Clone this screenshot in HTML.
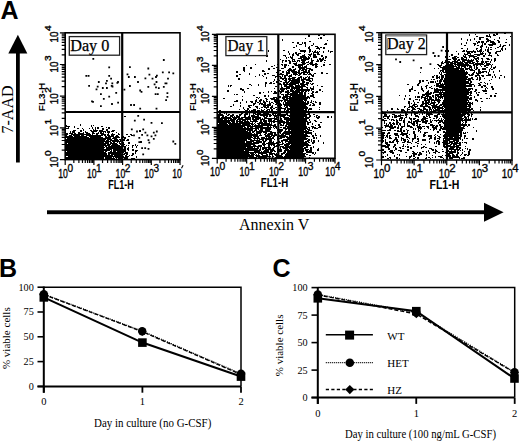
<!DOCTYPE html>
<html><head><meta charset="utf-8"><style>
html,body{margin:0;padding:0;background:#fff;width:520px;height:441px;overflow:hidden}
svg{display:block}
</style></head><body>
<svg width="520" height="441" viewBox="0 0 520 441">
<rect width="520" height="441" fill="#fff"/>
<text x="0.60" y="18.75" font-family='"Liberation Sans", sans-serif' font-size="25" font-weight="bold" text-anchor="start" >A</text>
<rect x="16" y="52" width="3.8" height="110.5" fill="#000"/>
<path d="M8.3 53.5 L27.3 53.5 L17.9 34.8 Z" fill="#000"/>
<text x="12.90" y="109.50" font-family='"Liberation Serif", serif' font-size="16" font-weight="normal" text-anchor="middle" transform="rotate(-90 12.90 109.50)" >7-AAD</text>
<path d="M496 33.5h2M504 33.5h2M469 34.5h1M475 34.5h1M489 34.5h1M493 34.5h2M496 34.5h2M308 35.5h2M318 35.5h2M323 35.5h2M469 35.5h1M486 35.5h2M489 35.5h1M493 35.5h3M308 36.5h2M476 36.5h2M486 36.5h5M510 36.5h1M320 37.5h2M479 37.5h5M490 37.5h1M499 37.5h1M305 38.5h1M318 38.5h1M320 38.5h2M461 38.5h1M474 38.5h1M479 38.5h2M486 38.5h2M499 38.5h1M237 39.5h2M282 39.5h1M461 39.5h1M467 39.5h1M470 39.5h1M474 39.5h1M479 39.5h2M486 39.5h3M494 39.5h1M506 39.5h1M237 40.5h2M282 40.5h1M327 40.5h1M467 40.5h1M470 40.5h1M487 40.5h4M497 40.5h2M309 41.5h2M476 41.5h1M478 41.5h2M481 41.5h3M486 41.5h3M490 41.5h4M498 41.5h2M292 42.5h2M297 42.5h2M302 42.5h1M304 42.5h2M466 42.5h1M477 42.5h3M481 42.5h3M486 42.5h1M490 42.5h5M498 42.5h2M505 42.5h2M297 43.5h2M302 43.5h1M304 43.5h2M313 43.5h1M325 43.5h2M461 43.5h1M466 43.5h1M473 43.5h3M477 43.5h1M482 43.5h1M484 43.5h2M492 43.5h4M299 44.5h3M305 44.5h1M313 44.5h1M324 44.5h3M461 44.5h1M474 44.5h2M482 44.5h1M484 44.5h2M488 44.5h8M500 44.5h1M509 44.5h1M296 45.5h1M305 45.5h1M311 45.5h2M464 45.5h2M474 45.5h1M477 45.5h2M481 45.5h2M489 45.5h4M500 45.5h1M503 45.5h3M509 45.5h1M296 46.5h1M305 46.5h1M309 46.5h1M315 46.5h3M480 46.5h3M486 46.5h1M499 46.5h2M502 46.5h2M293 47.5h2M308 47.5h2M317 47.5h2M320 47.5h2M323 47.5h2M480 47.5h2M486 47.5h1M488 47.5h1M490 47.5h2M497 47.5h2M502 47.5h1M308 48.5h2M316 48.5h4M323 48.5h2M461 48.5h2M467 48.5h1M476 48.5h2M481 48.5h1M488 48.5h1M495 48.5h1M501 48.5h2M505 48.5h1M299 49.5h1M309 49.5h2M319 49.5h1M467 49.5h1M476 49.5h1M480 49.5h2M485 49.5h1M487 49.5h2M490 49.5h2M501 49.5h2M505 49.5h1M268 50.5h1M283 50.5h2M300 50.5h6M309 50.5h2M315 50.5h1M328 50.5h1M445 50.5h1M448 50.5h1M463 50.5h2M466 50.5h1M473 50.5h1M477 50.5h1M479 50.5h3M485 50.5h1M487 50.5h2M500 50.5h1M502 50.5h1M268 51.5h1M288 51.5h1M300 51.5h6M309 51.5h2M312 51.5h1M314 51.5h2M317 51.5h1M319 51.5h1M323 51.5h1M328 51.5h1M330 51.5h3M445 51.5h1M448 51.5h1M456 51.5h1M462 51.5h3M466 51.5h10M477 51.5h5M483 51.5h1M487 51.5h2M496 51.5h5M288 52.5h1M295 52.5h2M304 52.5h1M309 52.5h1M313 52.5h6M323 52.5h1M330 52.5h1M447 52.5h1M467 52.5h3M471 52.5h2M474 52.5h2M480 52.5h1M482 52.5h1M488 52.5h3M495 52.5h2M289 53.5h1M293 53.5h1M295 53.5h2M298 53.5h3M311 53.5h1M313 53.5h1M317 53.5h2M458 53.5h1M464 53.5h1M467 53.5h4M480 53.5h4M485 53.5h1M489 53.5h2M495 53.5h2M289 54.5h1M292 54.5h2M296 54.5h3M304 54.5h1M308 54.5h4M313 54.5h3M317 54.5h3M451 54.5h2M458 54.5h1M464 54.5h4M470 54.5h1M474 54.5h9M485 54.5h1M489 54.5h1M497 54.5h1M266 55.5h2M283 55.5h3M292 55.5h2M297 55.5h2M302 55.5h3M309 55.5h2M313 55.5h3M321 55.5h2M446 55.5h2M451 55.5h2M463 55.5h1M465 55.5h1M468 55.5h6M477 55.5h3M483 55.5h2M488 55.5h4M497 55.5h2M266 56.5h2M285 56.5h1M290 56.5h1M292 56.5h1M300 56.5h6M308 56.5h1M310 56.5h1M313 56.5h4M321 56.5h2M325 56.5h2M445 56.5h2M449 56.5h1M454 56.5h3M463 56.5h3M469 56.5h8M483 56.5h2M491 56.5h1M286 57.5h1M288 57.5h1M290 57.5h3M300 57.5h7M308 57.5h2M313 57.5h4M323 57.5h1M325 57.5h2M445 57.5h2M452 57.5h4M457 57.5h2M461 57.5h2M464 57.5h3M469 57.5h1M473 57.5h2M477 57.5h2M286 58.5h1M291 58.5h2M298 58.5h4M303 58.5h7M311 58.5h1M319 58.5h2M322 58.5h2M325 58.5h1M452 58.5h5M461 58.5h3M466 58.5h1M474 58.5h5M481 58.5h2M486 58.5h3M494 58.5h2M280 59.5h1M292 59.5h3M301 59.5h8M311 59.5h1M317 59.5h1M319 59.5h5M447 59.5h4M453 59.5h4M458 59.5h2M461 59.5h6M468 59.5h1M471 59.5h1M473 59.5h1M475 59.5h2M478 59.5h1M482 59.5h1M487 59.5h3M491 59.5h1M494 59.5h2M266 60.5h1M278 60.5h1M282 60.5h2M285 60.5h2M288 60.5h2M292 60.5h1M294 60.5h1M297 60.5h3M301 60.5h5M311 60.5h3M317 60.5h2M320 60.5h3M324 60.5h2M445 60.5h1M454 60.5h2M457 60.5h3M462 60.5h12M476 60.5h2M482 60.5h1M491 60.5h1M494 60.5h2M266 61.5h1M278 61.5h1M282 61.5h1M285 61.5h2M289 61.5h2M292 61.5h4M297 61.5h1M299 61.5h1M302 61.5h3M308 61.5h1M311 61.5h2M316 61.5h3M320 61.5h2M442 61.5h1M445 61.5h1M448 61.5h2M452 61.5h6M460 61.5h1M462 61.5h3M467 61.5h6M476 61.5h3M481 61.5h3M485 61.5h4M490 61.5h1M494 61.5h1M282 62.5h1M289 62.5h2M296 62.5h1M301 62.5h4M306 62.5h3M310 62.5h3M324 62.5h1M441 62.5h2M444 62.5h9M454 62.5h9M464 62.5h7M472 62.5h3M477 62.5h1M481 62.5h3M485 62.5h2M490 62.5h1M289 63.5h2M293 63.5h4M302 63.5h4M309 63.5h4M315 63.5h2M441 63.5h3M446 63.5h3M450 63.5h6M457 63.5h7M465 63.5h3M469 63.5h5M475 63.5h8M484 63.5h1M486 63.5h4M255 64.5h1M277 64.5h1M281 64.5h2M284 64.5h3M294 64.5h3M298 64.5h7M307 64.5h2M310 64.5h8M323 64.5h2M329 64.5h2M437 64.5h2M441 64.5h1M446 64.5h7M454 64.5h15M473 64.5h11M486 64.5h5M492 64.5h1M246 65.5h1M274 65.5h1M282 65.5h1M284 65.5h3M288 65.5h1M295 65.5h8M306 65.5h1M312 65.5h2M315 65.5h2M323 65.5h2M438 65.5h4M445 65.5h9M455 65.5h1M457 65.5h14M473 65.5h2M476 65.5h2M480 65.5h1M484 65.5h5M491 65.5h1M271 66.5h2M284 66.5h2M292 66.5h2M298 66.5h3M302 66.5h1M304 66.5h3M315 66.5h3M321 66.5h1M439 66.5h2M443 66.5h14M458 66.5h2M461 66.5h5M467 66.5h1M469 66.5h3M474 66.5h1M476 66.5h1M481 66.5h1M484 66.5h2M491 66.5h1M495 66.5h1M243 67.5h2M250 67.5h2M276 67.5h2M284 67.5h2M292 67.5h2M298 67.5h9M315 67.5h2M440 67.5h14M456 67.5h4M461 67.5h1M464 67.5h2M469 67.5h3M474 67.5h1M476 67.5h2M486 67.5h2M491 67.5h1M493 67.5h3M243 68.5h2M250 68.5h2M268 68.5h2M273 68.5h2M281 68.5h3M289 68.5h2M295 68.5h1M299 68.5h6M306 68.5h5M434 68.5h1M438 68.5h1M442 68.5h22M465 68.5h5M471 68.5h1M474 68.5h1M476 68.5h2M482 68.5h4M490 68.5h1M493 68.5h2M243 69.5h2M268 69.5h2M277 69.5h2M288 69.5h4M293 69.5h3M299 69.5h2M302 69.5h5M309 69.5h4M442 69.5h17M460 69.5h4M465 69.5h3M469 69.5h4M475 69.5h2M478 69.5h2M482 69.5h4M489 69.5h1M491 69.5h2M243 70.5h2M262 70.5h2M277 70.5h4M287 70.5h8M298 70.5h2M301 70.5h3M305 70.5h2M308 70.5h2M311 70.5h2M440 70.5h4M445 70.5h20M470 70.5h5M478 70.5h2M489 70.5h1M499 70.5h1M236 71.5h2M244 71.5h1M262 71.5h3M277 71.5h2M282 71.5h2M286 71.5h1M288 71.5h2M291 71.5h6M298 71.5h2M303 71.5h4M308 71.5h2M440 71.5h1M442 71.5h2M445 71.5h20M466 71.5h1M474 71.5h1M478 71.5h3M482 71.5h5M489 71.5h1M493 71.5h1M499 71.5h1M236 72.5h2M276 72.5h2M282 72.5h2M286 72.5h4M292 72.5h8M301 72.5h9M321 72.5h2M420 72.5h1M439 72.5h1M441 72.5h1M443 72.5h25M473 72.5h2M476 72.5h1M478 72.5h6M486 72.5h1M488 72.5h1M493 72.5h1M249 73.5h1M264 73.5h2M267 73.5h2M277 73.5h1M280 73.5h2M286 73.5h4M293 73.5h4M298 73.5h4M303 73.5h2M307 73.5h1M309 73.5h2M314 73.5h2M321 73.5h2M326 73.5h2M439 73.5h1M441 73.5h1M446 73.5h1M448 73.5h20M472 73.5h2M476 73.5h5M488 73.5h1M239 74.5h2M249 74.5h1M259 74.5h1M264 74.5h2M277 74.5h7M286 74.5h2M291 74.5h1M293 74.5h5M299 74.5h2M303 74.5h4M308 74.5h4M313 74.5h1M440 74.5h2M444 74.5h23M468 74.5h2M471 74.5h3M477 74.5h2M488 74.5h3M494 74.5h1M236 75.5h2M259 75.5h1M262 75.5h1M272 75.5h3M277 75.5h2M282 75.5h1M284 75.5h4M289 75.5h3M295 75.5h1M298 75.5h2M311 75.5h3M434 75.5h1M436 75.5h2M441 75.5h3M445 75.5h21M469 75.5h4M475 75.5h5M481 75.5h3M486 75.5h5M494 75.5h1M500 75.5h2M236 76.5h2M255 76.5h1M263 76.5h1M275 76.5h6M282 76.5h1M284 76.5h2M288 76.5h4M300 76.5h2M307 76.5h1M309 76.5h1M312 76.5h2M432 76.5h2M436 76.5h2M439 76.5h1M441 76.5h3M445 76.5h1M447 76.5h21M475 76.5h2M479 76.5h1M482 76.5h2M492 76.5h1M495 76.5h1M504 76.5h1M266 77.5h1M275 77.5h1M280 77.5h2M284 77.5h2M289 77.5h1M292 77.5h4M298 77.5h4M303 77.5h1M305 77.5h2M308 77.5h2M432 77.5h2M436 77.5h4M441 77.5h3M445 77.5h23M471 77.5h2M477 77.5h1M479 77.5h2M492 77.5h1M495 77.5h1M499 77.5h1M504 77.5h1M238 78.5h2M266 78.5h1M280 78.5h7M288 78.5h7M297 78.5h3M301 78.5h1M303 78.5h3M308 78.5h5M436 78.5h2M439 78.5h1M441 78.5h2M444 78.5h23M468 78.5h5M477 78.5h1M479 78.5h2M484 78.5h1M499 78.5h1M238 79.5h2M274 79.5h1M277 79.5h2M282 79.5h2M285 79.5h2M288 79.5h3M292 79.5h8M301 79.5h9M312 79.5h1M431 79.5h1M433 79.5h2M440 79.5h3M444 79.5h27M472 79.5h2M476 79.5h2M479 79.5h2M491 79.5h1M274 80.5h1M278 80.5h2M284 80.5h3M289 80.5h11M301 80.5h3M306 80.5h5M312 80.5h1M419 80.5h2M422 80.5h2M426 80.5h2M437 80.5h1M439 80.5h3M443 80.5h23M468 80.5h3M479 80.5h1M489 80.5h1M273 81.5h1M276 81.5h2M280 81.5h2M285 81.5h2M288 81.5h2M291 81.5h9M302 81.5h3M309 81.5h3M419 81.5h2M422 81.5h2M430 81.5h4M435 81.5h1M437 81.5h1M439 81.5h3M443 81.5h26M470 81.5h2M265 82.5h2M270 82.5h2M276 82.5h2M283 82.5h6M290 82.5h10M302 82.5h3M306 82.5h3M419 82.5h2M428 82.5h1M430 82.5h4M435 82.5h1M439 82.5h2M444 82.5h25M470 82.5h2M480 82.5h2M484 82.5h1M265 83.5h2M269 83.5h3M273 83.5h2M279 83.5h2M283 83.5h2M286 83.5h2M289 83.5h10M300 83.5h4M306 83.5h3M310 83.5h1M312 83.5h2M418 83.5h2M428 83.5h1M436 83.5h5M442 83.5h1M444 83.5h27M478 83.5h2M485 83.5h1M487 83.5h1M490 83.5h1M249 84.5h2M258 84.5h1M265 84.5h1M279 84.5h3M283 84.5h13M298 84.5h1M300 84.5h8M311 84.5h2M407 84.5h2M417 84.5h2M436 84.5h3M440 84.5h26M469 84.5h5M479 84.5h2M487 84.5h1M228 85.5h1M230 85.5h2M251 85.5h1M258 85.5h1M265 85.5h1M281 85.5h1M284 85.5h3M289 85.5h4M295 85.5h5M301 85.5h4M307 85.5h1M317 85.5h1M417 85.5h2M426 85.5h2M434 85.5h1M436 85.5h8M445 85.5h27M474 85.5h1M478 85.5h3M483 85.5h3M228 86.5h1M230 86.5h1M265 86.5h1M275 86.5h2M281 86.5h1M284 86.5h10M295 86.5h11M313 86.5h1M321 86.5h2M412 86.5h1M421 86.5h1M425 86.5h2M431 86.5h1M436 86.5h36M474 86.5h1M481 86.5h2M484 86.5h2M491 86.5h2M281 87.5h2M286 87.5h4M291 87.5h12M306 87.5h2M310 87.5h1M313 87.5h1M412 87.5h1M421 87.5h1M426 87.5h1M429 87.5h2M439 87.5h27M481 87.5h2M486 87.5h1M491 87.5h2M240 88.5h2M247 88.5h2M274 88.5h1M280 88.5h10M291 88.5h9M301 88.5h2M307 88.5h1M310 88.5h4M411 88.5h2M421 88.5h2M426 88.5h1M431 88.5h2M434 88.5h1M436 88.5h2M442 88.5h25M468 88.5h5M485 88.5h1M487 88.5h1M492 88.5h2M240 89.5h4M280 89.5h5M286 89.5h1M290 89.5h3M294 89.5h1M296 89.5h14M311 89.5h3M319 89.5h2M409 89.5h4M421 89.5h2M434 89.5h37M472 89.5h1M475 89.5h2M485 89.5h1M492 89.5h2M227 90.5h2M242 90.5h2M279 90.5h1M281 90.5h3M287 90.5h2M290 90.5h4M295 90.5h15M311 90.5h1M319 90.5h2M409 90.5h2M414 90.5h2M422 90.5h2M428 90.5h1M434 90.5h36M475 90.5h2M482 90.5h5M227 91.5h2M244 91.5h1M268 91.5h1M271 91.5h1M274 91.5h2M279 91.5h5M285 91.5h4M290 91.5h10M301 91.5h3M305 91.5h2M308 91.5h1M312 91.5h2M316 91.5h2M322 91.5h1M409 91.5h2M423 91.5h1M427 91.5h2M434 91.5h5M440 91.5h1M442 91.5h1M445 91.5h24M470 91.5h2M474 91.5h2M483 91.5h4M244 92.5h1M259 92.5h2M263 92.5h1M268 92.5h1M274 92.5h3M280 92.5h2M285 92.5h5M292 92.5h11M304 92.5h2M312 92.5h2M315 92.5h3M418 92.5h1M426 92.5h3M430 92.5h2M433 92.5h39M476 92.5h1M478 92.5h2M259 93.5h2M273 93.5h4M280 93.5h1M287 93.5h2M290 93.5h8M299 93.5h4M304 93.5h2M308 93.5h1M311 93.5h2M418 93.5h1M425 93.5h7M433 93.5h1M439 93.5h3M443 93.5h26M470 93.5h2M476 93.5h1M485 93.5h2M495 93.5h2M234 94.5h1M236 94.5h2M281 94.5h3M285 94.5h18M304 94.5h2M312 94.5h2M422 94.5h9M435 94.5h34M470 94.5h1M477 94.5h2M253 95.5h2M264 95.5h2M268 95.5h1M283 95.5h1M285 95.5h3M290 95.5h16M310 95.5h4M399 95.5h1M405 95.5h1M409 95.5h1M422 95.5h3M426 95.5h3M432 95.5h2M435 95.5h4M440 95.5h2M443 95.5h24M469 95.5h3M477 95.5h2M490 95.5h2M494 95.5h2M242 96.5h1M264 96.5h2M268 96.5h1M279 96.5h2M283 96.5h8M292 96.5h14M307 96.5h2M310 96.5h4M405 96.5h1M415 96.5h1M417 96.5h3M421 96.5h2M425 96.5h6M432 96.5h2M435 96.5h1M437 96.5h32M474 96.5h1M490 96.5h2M494 96.5h2M256 97.5h2M259 97.5h1M273 97.5h4M279 97.5h2M282 97.5h6M289 97.5h21M313 97.5h2M415 97.5h1M417 97.5h3M421 97.5h5M427 97.5h1M429 97.5h3M433 97.5h1M435 97.5h2M438 97.5h5M444 97.5h25M470 97.5h2M474 97.5h1M223 98.5h2M258 98.5h1M265 98.5h2M270 98.5h5M276 98.5h2M282 98.5h3M286 98.5h22M309 98.5h1M404 98.5h1M409 98.5h2M421 98.5h1M424 98.5h4M429 98.5h3M435 98.5h2M438 98.5h1M440 98.5h1M442 98.5h1M444 98.5h28M480 98.5h2M486 98.5h2M489 98.5h1M242 99.5h1M256 99.5h1M260 99.5h2M266 99.5h2M271 99.5h7M283 99.5h5M289 99.5h18M404 99.5h1M409 99.5h2M415 99.5h3M419 99.5h1M424 99.5h2M427 99.5h7M435 99.5h5M444 99.5h24M469 99.5h3M475 99.5h2M236 100.5h2M242 100.5h1M255 100.5h2M259 100.5h3M263 100.5h1M266 100.5h1M274 100.5h9M284 100.5h19M304 100.5h3M311 100.5h1M413 100.5h1M419 100.5h1M424 100.5h6M431 100.5h10M443 100.5h26M475 100.5h3M234 101.5h4M246 101.5h1M250 101.5h3M255 101.5h2M259 101.5h2M263 101.5h2M266 101.5h2M269 101.5h1M274 101.5h6M281 101.5h1M284 101.5h2M287 101.5h17M305 101.5h1M307 101.5h2M311 101.5h1M313 101.5h1M315 101.5h1M408 101.5h2M413 101.5h1M422 101.5h2M425 101.5h2M428 101.5h2M431 101.5h1M434 101.5h1M437 101.5h3M443 101.5h24M468 101.5h1M477 101.5h1M481 101.5h2M240 102.5h1M246 102.5h1M251 102.5h2M255 102.5h1M257 102.5h2M260 102.5h1M263 102.5h3M269 102.5h1M271 102.5h2M275 102.5h5M283 102.5h1M285 102.5h21M307 102.5h2M310 102.5h2M315 102.5h2M319 102.5h2M408 102.5h2M414 102.5h1M417 102.5h2M422 102.5h2M425 102.5h5M431 102.5h5M438 102.5h2M442 102.5h29M472 102.5h1M240 103.5h1M253 103.5h3M259 103.5h4M264 103.5h2M269 103.5h2M273 103.5h1M276 103.5h5M283 103.5h1M285 103.5h24M312 103.5h2M319 103.5h2M408 103.5h2M411 103.5h1M414 103.5h1M422 103.5h7M430 103.5h5M438 103.5h1M442 103.5h26M469 103.5h4M233 104.5h1M253 104.5h2M259 104.5h1M261 104.5h5M267 104.5h4M275 104.5h2M278 104.5h4M283 104.5h25M310 104.5h1M313 104.5h2M319 104.5h2M409 104.5h1M413 104.5h4M421 104.5h3M425 104.5h2M428 104.5h3M433 104.5h2M436 104.5h2M440 104.5h31M472 104.5h1M233 105.5h1M240 105.5h1M248 105.5h4M253 105.5h1M263 105.5h8M272 105.5h1M277 105.5h5M284 105.5h22M309 105.5h2M312 105.5h3M409 105.5h1M412 105.5h3M417 105.5h1M420 105.5h3M425 105.5h3M431 105.5h6M439 105.5h3M443 105.5h24M468 105.5h3M230 106.5h2M240 106.5h1M248 106.5h2M255 106.5h3M263 106.5h3M267 106.5h2M271 106.5h2M279 106.5h2M284 106.5h1M286 106.5h2M289 106.5h18M404 106.5h2M409 106.5h4M414 106.5h4M420 106.5h10M432 106.5h8M442 106.5h29M243 107.5h1M249 107.5h2M256 107.5h2M261 107.5h2M264 107.5h5M270 107.5h3M275 107.5h2M279 107.5h3M285 107.5h3M290 107.5h18M319 107.5h1M404 107.5h1M408 107.5h2M411 107.5h3M415 107.5h1M423 107.5h2M428 107.5h3M432 107.5h11M444 107.5h23M469 107.5h2M480 107.5h1M243 108.5h1M247 108.5h2M257 108.5h1M259 108.5h1M266 108.5h1M270 108.5h2M273 108.5h2M279 108.5h7M287 108.5h21M309 108.5h3M391 108.5h2M397 108.5h1M407 108.5h1M412 108.5h3M417 108.5h3M423 108.5h3M429 108.5h2M432 108.5h1M434 108.5h2M437 108.5h7M445 108.5h25M471 108.5h2M239 109.5h1M244 109.5h1M247 109.5h2M253 109.5h3M261 109.5h1M264 109.5h1M267 109.5h3M271 109.5h2M276 109.5h1M278 109.5h3M284 109.5h2M287 109.5h17M305 109.5h2M308 109.5h4M319 109.5h1M391 109.5h2M397 109.5h2M401 109.5h3M407 109.5h3M412 109.5h4M419 109.5h3M423 109.5h5M429 109.5h3M433 109.5h1M435 109.5h5M442 109.5h1M444 109.5h29M480 109.5h1M219 110.5h2M245 110.5h3M249 110.5h1M251 110.5h5M257 110.5h3M261 110.5h3M266 110.5h2M269 110.5h1M271 110.5h2M278 110.5h3M284 110.5h1M286 110.5h3M290 110.5h17M308 110.5h1M387 110.5h1M401 110.5h4M407 110.5h1M411 110.5h2M418 110.5h1M420 110.5h4M426 110.5h2M429 110.5h1M431 110.5h1M433 110.5h38M473 110.5h1M480 110.5h1M218 111.5h2M221 111.5h2M228 111.5h3M235 111.5h1M246 111.5h2M250 111.5h2M254 111.5h1M258 111.5h2M262 111.5h2M266 111.5h2M269 111.5h1M271 111.5h2M276 111.5h2M282 111.5h6M289 111.5h15M305 111.5h5M382 111.5h1M393 111.5h2M401 111.5h2M404 111.5h2M407 111.5h1M412 111.5h3M418 111.5h4M423 111.5h2M426 111.5h2M430 111.5h6M438 111.5h29M468 111.5h2M219 112.5h4M230 112.5h1M233 112.5h1M235 112.5h1M243 112.5h1M245 112.5h4M258 112.5h1M262 112.5h1M266 112.5h7M274 112.5h1M279 112.5h2M282 112.5h4M289 112.5h19M382 112.5h1M393 112.5h2M400 112.5h2M403 112.5h3M407 112.5h1M412 112.5h3M418 112.5h4M423 112.5h2M427 112.5h1M429 112.5h11M441 112.5h2M444 112.5h25M219 113.5h2M224 113.5h1M226 113.5h1M241 113.5h2M245 113.5h3M249 113.5h1M253 113.5h3M257 113.5h4M263 113.5h6M272 113.5h5M279 113.5h2M286 113.5h2M290 113.5h16M308 113.5h2M382 113.5h4M405 113.5h2M411 113.5h1M414 113.5h4M422 113.5h1M424 113.5h1M426 113.5h6M438 113.5h2M443 113.5h1M445 113.5h16M462 113.5h7M471 113.5h1M218 114.5h5M226 114.5h1M228 114.5h2M232 114.5h2M239 114.5h3M244 114.5h4M249 114.5h1M253 114.5h1M255 114.5h16M272 114.5h2M275 114.5h1M277 114.5h11M290 114.5h20M313 114.5h2M384 114.5h3M392 114.5h3M400 114.5h1M405 114.5h3M411 114.5h1M414 114.5h2M419 114.5h1M422 114.5h1M426 114.5h7M437 114.5h3M441 114.5h25M467 114.5h3M471 114.5h2M218 115.5h6M227 115.5h2M230 115.5h4M236 115.5h2M239 115.5h2M244 115.5h2M249 115.5h1M251 115.5h4M257 115.5h2M260 115.5h8M269 115.5h3M273 115.5h13M287 115.5h20M309 115.5h2M316 115.5h2M384 115.5h3M389 115.5h1M394 115.5h3M398 115.5h6M405 115.5h2M411 115.5h1M415 115.5h3M426 115.5h1M428 115.5h2M434 115.5h4M442 115.5h23M468 115.5h2M471 115.5h1M124 116.5h2M218 116.5h2M222 116.5h2M225 116.5h2M230 116.5h3M234 116.5h1M236 116.5h4M244 116.5h2M248 116.5h2M251 116.5h8M263 116.5h2M266 116.5h2M269 116.5h2M274 116.5h3M280 116.5h5M289 116.5h18M309 116.5h2M314 116.5h1M316 116.5h1M318 116.5h2M327 116.5h2M331 116.5h1M383 116.5h7M392 116.5h1M394 116.5h7M406 116.5h1M415 116.5h4M423 116.5h2M426 116.5h2M429 116.5h1M434 116.5h4M440 116.5h1M442 116.5h21M464 116.5h2M467 116.5h2M471 116.5h1M218 117.5h2M221 117.5h10M232 117.5h8M241 117.5h10M252 117.5h9M264 117.5h3M274 117.5h1M276 117.5h2M280 117.5h1M283 117.5h6M290 117.5h14M305 117.5h5M316 117.5h4M327 117.5h2M331 117.5h1M383 117.5h1M387 117.5h2M392 117.5h1M394 117.5h3M400 117.5h3M405 117.5h2M409 117.5h1M418 117.5h1M423 117.5h3M429 117.5h2M436 117.5h2M443 117.5h19M464 117.5h3M468 117.5h1M218 118.5h14M233 118.5h4M238 118.5h5M245 118.5h6M252 118.5h2M255 118.5h6M262 118.5h1M264 118.5h13M280 118.5h2M284 118.5h25M317 118.5h2M384 118.5h2M387 118.5h2M399 118.5h4M404 118.5h1M409 118.5h3M413 118.5h3M422 118.5h6M433 118.5h2M436 118.5h1M439 118.5h1M441 118.5h1M444 118.5h20M465 118.5h2M468 118.5h1M470 118.5h1M472 118.5h1M475 118.5h2M218 119.5h5M224 119.5h3M228 119.5h1M230 119.5h6M237 119.5h14M252 119.5h7M260 119.5h5M268 119.5h4M274 119.5h5M280 119.5h2M284 119.5h23M309 119.5h1M382 119.5h2M389 119.5h1M391 119.5h3M396 119.5h1M399 119.5h1M401 119.5h1M404 119.5h1M410 119.5h2M413 119.5h2M417 119.5h2M421 119.5h5M430 119.5h1M438 119.5h1M441 119.5h1M443 119.5h1M445 119.5h18M464 119.5h7M472 119.5h1M474 119.5h3M218 120.5h17M236 120.5h2M239 120.5h2M242 120.5h4M247 120.5h1M250 120.5h1M253 120.5h4M260 120.5h2M263 120.5h4M268 120.5h4M273 120.5h2M277 120.5h6M286 120.5h21M309 120.5h1M314 120.5h2M382 120.5h5M391 120.5h1M393 120.5h2M396 120.5h2M399 120.5h3M403 120.5h2M411 120.5h1M415 120.5h4M421 120.5h3M425 120.5h3M430 120.5h1M432 120.5h1M434 120.5h9M444 120.5h27M218 121.5h12M231 121.5h4M236 121.5h7M244 121.5h5M250 121.5h8M260 121.5h2M263 121.5h4M268 121.5h17M286 121.5h3M290 121.5h18M310 121.5h1M315 121.5h2M384 121.5h1M396 121.5h2M403 121.5h2M408 121.5h2M411 121.5h1M413 121.5h8M422 121.5h6M430 121.5h2M436 121.5h1M439 121.5h4M444 121.5h17M462 121.5h1M465 121.5h2M218 122.5h13M232 122.5h3M236 122.5h2M239 122.5h11M252 122.5h1M255 122.5h1M259 122.5h4M264 122.5h3M269 122.5h1M271 122.5h1M273 122.5h2M278 122.5h28M307 122.5h4M320 122.5h2M384 122.5h1M389 122.5h2M393 122.5h1M396 122.5h3M403 122.5h2M408 122.5h4M413 122.5h2M416 122.5h2M422 122.5h5M430 122.5h2M438 122.5h3M442 122.5h19M463 122.5h1M465 122.5h2M219 123.5h8M228 123.5h25M254 123.5h1M257 123.5h13M271 123.5h1M278 123.5h3M283 123.5h2M286 123.5h20M307 123.5h2M312 123.5h1M384 123.5h1M386 123.5h1M389 123.5h2M392 123.5h3M396 123.5h2M399 123.5h2M404 123.5h1M407 123.5h1M411 123.5h4M416 123.5h2M425 123.5h2M428 123.5h2M438 123.5h1M443 123.5h18M462 123.5h1M465 123.5h1M80 124.5h1M218 124.5h10M229 124.5h12M242 124.5h8M251 124.5h3M255 124.5h1M258 124.5h2M261 124.5h11M274 124.5h2M280 124.5h2M283 124.5h1M286 124.5h20M307 124.5h2M312 124.5h1M318 124.5h2M386 124.5h1M388 124.5h1M390 124.5h2M393 124.5h2M396 124.5h2M399 124.5h2M404 124.5h1M407 124.5h1M412 124.5h3M417 124.5h1M419 124.5h2M430 124.5h3M439 124.5h2M444 124.5h23M468 124.5h2M66 125.5h1M80 125.5h1M91 125.5h1M93 125.5h1M218 125.5h33M252 125.5h1M254 125.5h22M280 125.5h4M285 125.5h2M288 125.5h18M315 125.5h1M318 125.5h2M384 125.5h5M390 125.5h3M398 125.5h1M400 125.5h1M404 125.5h1M407 125.5h3M413 125.5h2M416 125.5h2M419 125.5h1M430 125.5h5M436 125.5h2M439 125.5h2M444 125.5h23M468 125.5h2M66 126.5h4M74 126.5h1M91 126.5h1M101 126.5h2M218 126.5h27M247 126.5h16M267 126.5h2M270 126.5h1M273 126.5h4M278 126.5h1M285 126.5h22M311 126.5h3M319 126.5h2M385 126.5h8M394 126.5h2M398 126.5h1M401 126.5h4M407 126.5h5M417 126.5h4M422 126.5h3M426 126.5h3M432 126.5h2M435 126.5h3M440 126.5h3M444 126.5h3M448 126.5h13M463 126.5h2M467 126.5h1M68 127.5h1M74 127.5h1M92 127.5h1M95 127.5h1M97 127.5h2M106 127.5h1M108 127.5h2M218 127.5h25M244 127.5h2M247 127.5h2M250 127.5h3M255 127.5h17M273 127.5h1M275 127.5h2M278 127.5h1M280 127.5h2M283 127.5h3M287 127.5h20M308 127.5h2M312 127.5h4M318 127.5h3M382 127.5h1M385 127.5h1M389 127.5h7M397 127.5h2M401 127.5h2M410 127.5h3M417 127.5h5M427 127.5h2M432 127.5h5M440 127.5h2M443 127.5h21M473 127.5h1M66 128.5h3M77 128.5h2M82 128.5h1M89 128.5h1M92 128.5h1M95 128.5h1M97 128.5h2M102 128.5h2M108 128.5h2M218 128.5h41M260 128.5h11M274 128.5h1M276 128.5h1M283 128.5h25M309 128.5h1M312 128.5h1M314 128.5h4M390 128.5h4M397 128.5h2M400 128.5h2M413 128.5h1M415 128.5h1M418 128.5h4M424 128.5h1M428 128.5h1M433 128.5h4M440 128.5h25M83 129.5h1M93 129.5h1M95 129.5h1M102 129.5h2M106 129.5h2M218 129.5h35M255 129.5h2M258 129.5h1M260 129.5h3M265 129.5h6M277 129.5h6M285 129.5h2M288 129.5h18M307 129.5h3M389 129.5h2M400 129.5h2M406 129.5h1M413 129.5h1M415 129.5h1M418 129.5h1M420 129.5h1M430 129.5h1M433 129.5h2M436 129.5h1M439 129.5h2M442 129.5h21M73 130.5h3M80 130.5h2M83 130.5h1M90 130.5h2M93 130.5h5M99 130.5h4M106 130.5h2M112 130.5h3M139 130.5h2M218 130.5h28M247 130.5h6M254 130.5h3M259 130.5h4M265 130.5h5M277 130.5h6M285 130.5h1M288 130.5h2M291 130.5h13M305 130.5h2M308 130.5h4M382 130.5h4M387 130.5h4M394 130.5h2M397 130.5h2M400 130.5h2M403 130.5h2M407 130.5h2M418 130.5h2M433 130.5h1M439 130.5h2M446 130.5h17M476 130.5h1M70 131.5h1M72 131.5h3M80 131.5h2M85 131.5h1M91 131.5h6M99 131.5h7M107 131.5h3M111 131.5h3M139 131.5h2M218 131.5h30M249 131.5h2M252 131.5h3M256 131.5h16M279 131.5h3M284 131.5h25M313 131.5h1M397 131.5h5M403 131.5h2M407 131.5h1M413 131.5h2M418 131.5h1M420 131.5h1M437 131.5h2M443 131.5h2M446 131.5h16M476 131.5h1M70 132.5h1M72 132.5h3M78 132.5h2M83 132.5h1M85 132.5h3M92 132.5h2M98 132.5h1M100 132.5h2M103 132.5h1M105 132.5h1M107 132.5h3M116 132.5h1M218 132.5h33M252 132.5h2M256 132.5h6M263 132.5h4M270 132.5h6M277 132.5h4M283 132.5h29M382 132.5h3M388 132.5h2M401 132.5h2M407 132.5h1M413 132.5h2M420 132.5h1M424 132.5h4M437 132.5h2M443 132.5h19M463 132.5h1M465 132.5h1M467 132.5h1M66 133.5h2M69 133.5h4M74 133.5h2M78 133.5h6M86 133.5h4M92 133.5h3M96 133.5h3M100 133.5h4M108 133.5h1M112 133.5h1M118 133.5h1M218 133.5h34M254 133.5h1M256 133.5h5M265 133.5h2M268 133.5h5M274 133.5h2M280 133.5h1M282 133.5h22M305 133.5h7M315 133.5h1M382 133.5h3M387 133.5h3M394 133.5h4M401 133.5h7M413 133.5h2M424 133.5h2M445 133.5h1M448 133.5h11M460 133.5h2M463 133.5h3M66 134.5h2M71 134.5h20M92 134.5h1M96 134.5h2M101 134.5h5M107 134.5h2M111 134.5h4M118 134.5h2M126 134.5h2M130 134.5h2M218 134.5h40M260 134.5h1M264 134.5h2M267 134.5h6M274 134.5h3M278 134.5h1M281 134.5h3M285 134.5h5M291 134.5h16M311 134.5h1M315 134.5h1M382 134.5h2M387 134.5h1M394 134.5h4M400 134.5h7M409 134.5h1M414 134.5h2M423 134.5h2M435 134.5h1M440 134.5h1M444 134.5h3M448 134.5h11M460 134.5h2M66 135.5h1M69 135.5h3M73 135.5h7M81 135.5h3M86 135.5h17M104 135.5h2M107 135.5h3M111 135.5h3M116 135.5h2M131 135.5h2M218 135.5h40M259 135.5h3M265 135.5h5M271 135.5h6M278 135.5h8M289 135.5h19M312 135.5h2M315 135.5h2M320 135.5h1M382 135.5h3M386 135.5h2M389 135.5h2M395 135.5h4M402 135.5h2M406 135.5h2M414 135.5h2M423 135.5h3M428 135.5h4M434 135.5h1M437 135.5h1M443 135.5h19M464 135.5h2M66 136.5h7M74 136.5h13M89 136.5h12M105 136.5h2M108 136.5h6M115 136.5h4M122 136.5h2M128 136.5h2M218 136.5h34M253 136.5h6M265 136.5h7M273 136.5h2M277 136.5h11M289 136.5h21M312 136.5h2M320 136.5h1M382 136.5h2M386 136.5h2M389 136.5h1M398 136.5h1M406 136.5h2M414 136.5h2M417 136.5h1M423 136.5h2M428 136.5h4M435 136.5h1M438 136.5h2M443 136.5h16M460 136.5h2M464 136.5h2M66 137.5h23M90 137.5h13M105 137.5h6M113 137.5h7M121 137.5h5M218 137.5h35M254 137.5h2M257 137.5h2M261 137.5h4M266 137.5h1M268 137.5h3M272 137.5h2M277 137.5h2M280 137.5h5M286 137.5h20M313 137.5h2M316 137.5h1M382 137.5h2M385 137.5h1M387 137.5h1M389 137.5h2M395 137.5h2M398 137.5h1M401 137.5h1M406 137.5h3M414 137.5h2M430 137.5h2M434 137.5h2M439 137.5h2M444 137.5h4M449 137.5h4M454 137.5h7M464 137.5h1M67 138.5h44M112 138.5h5M121 138.5h2M124 138.5h2M218 138.5h33M253 138.5h7M261 138.5h13M277 138.5h5M287 138.5h21M313 138.5h2M316 138.5h1M382 138.5h2M389 138.5h3M395 138.5h2M401 138.5h3M409 138.5h1M412 138.5h4M417 138.5h2M429 138.5h3M434 138.5h2M437 138.5h3M443 138.5h18M464 138.5h1M466 138.5h2M472 138.5h2M66 139.5h40M107 139.5h5M114 139.5h4M119 139.5h2M123 139.5h2M127 139.5h2M218 139.5h29M248 139.5h4M254 139.5h1M257 139.5h1M259 139.5h5M265 139.5h7M274 139.5h1M277 139.5h2M283 139.5h24M308 139.5h2M311 139.5h1M382 139.5h1M385 139.5h1M394 139.5h4M401 139.5h1M403 139.5h3M407 139.5h1M412 139.5h2M417 139.5h2M422 139.5h4M429 139.5h1M434 139.5h2M439 139.5h1M443 139.5h1M445 139.5h14M460 139.5h1M462 139.5h1M472 139.5h2M66 140.5h39M106 140.5h3M110 140.5h9M120 140.5h1M123 140.5h2M126 140.5h3M218 140.5h29M250 140.5h10M262 140.5h2M265 140.5h2M269 140.5h3M278 140.5h1M281 140.5h7M289 140.5h15M307 140.5h3M311 140.5h1M313 140.5h2M318 140.5h1M382 140.5h2M385 140.5h1M393 140.5h2M396 140.5h2M401 140.5h1M403 140.5h3M408 140.5h1M412 140.5h1M418 140.5h1M422 140.5h4M437 140.5h2M443 140.5h4M448 140.5h2M453 140.5h6M462 140.5h1M66 141.5h45M112 141.5h9M122 141.5h1M140 141.5h2M218 141.5h27M246 141.5h8M256 141.5h6M263 141.5h3M269 141.5h3M273 141.5h1M278 141.5h2M281 141.5h2M285 141.5h19M305 141.5h4M311 141.5h1M313 141.5h2M318 141.5h1M382 141.5h2M385 141.5h1M389 141.5h2M392 141.5h2M396 141.5h3M404 141.5h2M407 141.5h2M412 141.5h1M417 141.5h2M429 141.5h1M436 141.5h4M443 141.5h5M449 141.5h6M456 141.5h3M66 142.5h38M105 142.5h4M110 142.5h2M113 142.5h2M117 142.5h1M119 142.5h1M122 142.5h2M128 142.5h2M140 142.5h2M218 142.5h27M246 142.5h6M253 142.5h9M263 142.5h2M268 142.5h6M276 142.5h5M282 142.5h1M285 142.5h1M288 142.5h19M308 142.5h2M312 142.5h3M323 142.5h1M382 142.5h1M385 142.5h3M389 142.5h5M397 142.5h1M402 142.5h3M407 142.5h4M415 142.5h2M429 142.5h1M434 142.5h1M436 142.5h1M438 142.5h2M442 142.5h6M449 142.5h4M454 142.5h4M459 142.5h2M462 142.5h1M464 142.5h3M66 143.5h1M68 143.5h41M110 143.5h7M119 143.5h2M122 143.5h2M128 143.5h2M218 143.5h41M262 143.5h3M266 143.5h13M282 143.5h2M286 143.5h22M312 143.5h2M323 143.5h1M385 143.5h3M397 143.5h1M411 143.5h1M417 143.5h2M434 143.5h1M436 143.5h1M438 143.5h2M443 143.5h7M451 143.5h10M466 143.5h1M66 144.5h40M107 144.5h4M112 144.5h6M120 144.5h1M122 144.5h3M135 144.5h1M218 144.5h37M262 144.5h4M268 144.5h7M277 144.5h6M284 144.5h6M291 144.5h18M386 144.5h4M394 144.5h2M403 144.5h1M407 144.5h1M421 144.5h1M425 144.5h1M438 144.5h2M443 144.5h3M450 144.5h2M453 144.5h4M459 144.5h2M66 145.5h44M111 145.5h9M121 145.5h3M126 145.5h1M128 145.5h1M132 145.5h2M135 145.5h1M137 145.5h1M218 145.5h33M253 145.5h3M258 145.5h4M263 145.5h2M268 145.5h2M271 145.5h1M273 145.5h2M276 145.5h4M284 145.5h5M290 145.5h21M382 145.5h4M387 145.5h3M394 145.5h2M403 145.5h1M417 145.5h1M443 145.5h2M446 145.5h5M453 145.5h2M456 145.5h5M66 146.5h38M105 146.5h2M108 146.5h18M132 146.5h1M136 146.5h1M218 146.5h44M264 146.5h1M268 146.5h2M274 146.5h4M280 146.5h4M285 146.5h19M306 146.5h2M313 146.5h1M382 146.5h7M393 146.5h2M402 146.5h2M405 146.5h1M407 146.5h2M413 146.5h2M417 146.5h1M423 146.5h2M435 146.5h2M443 146.5h3M447 146.5h12M465 146.5h1M66 147.5h39M106 147.5h16M124 147.5h2M128 147.5h1M132 147.5h1M136 147.5h1M218 147.5h28M247 147.5h6M254 147.5h1M257 147.5h2M260 147.5h1M262 147.5h9M273 147.5h2M280 147.5h1M282 147.5h21M304 147.5h4M310 147.5h2M313 147.5h1M385 147.5h4M393 147.5h1M395 147.5h1M399 147.5h2M407 147.5h2M410 147.5h2M421 147.5h3M425 147.5h2M444 147.5h2M450 147.5h5M456 147.5h5M66 148.5h38M106 148.5h17M124 148.5h2M127 148.5h2M218 148.5h41M260 148.5h1M262 148.5h5M268 148.5h3M272 148.5h2M277 148.5h2M280 148.5h1M283 148.5h5M289 148.5h17M310 148.5h2M318 148.5h1M388 148.5h2M395 148.5h2M400 148.5h1M402 148.5h2M410 148.5h2M421 148.5h1M429 148.5h3M449 148.5h5M456 148.5h2M459 148.5h2M465 148.5h1M467 148.5h1M66 149.5h46M113 149.5h13M127 149.5h2M132 149.5h2M218 149.5h40M259 149.5h2M262 149.5h2M265 149.5h9M277 149.5h1M279 149.5h3M285 149.5h4M290 149.5h14M305 149.5h4M310 149.5h2M317 149.5h2M382 149.5h2M388 149.5h2M395 149.5h2M407 149.5h2M431 149.5h3M435 149.5h1M442 149.5h1M446 149.5h2M449 149.5h11M462 149.5h1M467 149.5h1M469 149.5h2M66 150.5h44M111 150.5h1M113 150.5h9M123 150.5h3M128 150.5h1M132 150.5h2M135 150.5h3M218 150.5h26M245 150.5h16M264 150.5h5M270 150.5h5M277 150.5h5M284 150.5h20M305 150.5h3M309 150.5h3M317 150.5h2M382 150.5h2M390 150.5h3M394 150.5h1M398 150.5h4M407 150.5h2M428 150.5h1M432 150.5h2M435 150.5h2M446 150.5h3M451 150.5h1M454 150.5h2M457 150.5h2M460 150.5h1M462 150.5h1M469 150.5h2M67 151.5h37M105 151.5h2M110 151.5h2M113 151.5h3M117 151.5h5M123 151.5h3M135 151.5h2M218 151.5h31M254 151.5h6M261 151.5h1M263 151.5h6M270 151.5h3M274 151.5h2M277 151.5h5M284 151.5h2M287 151.5h17M306 151.5h6M384 151.5h2M389 151.5h4M400 151.5h2M412 151.5h2M422 151.5h2M426 151.5h1M428 151.5h1M435 151.5h3M442 151.5h2M446 151.5h1M448 151.5h8M457 151.5h1M464 151.5h1M468 151.5h2M66 152.5h40M108 152.5h16M125 152.5h3M135 152.5h1M218 152.5h54M277 152.5h1M283 152.5h3M287 152.5h16M306 152.5h8M315 152.5h1M382 152.5h4M390 152.5h4M405 152.5h2M413 152.5h2M417 152.5h1M419 152.5h2M426 152.5h1M429 152.5h1M433 152.5h3M438 152.5h2M445 152.5h3M449 152.5h7M457 152.5h2M462 152.5h1M468 152.5h2M66 153.5h41M108 153.5h13M124 153.5h4M132 153.5h2M135 153.5h1M218 153.5h31M250 153.5h4M255 153.5h1M258 153.5h9M269 153.5h6M276 153.5h1M281 153.5h4M286 153.5h20M312 153.5h2M315 153.5h1M383 153.5h1M392 153.5h2M412 153.5h5M419 153.5h3M429 153.5h1M435 153.5h1M446 153.5h7M457 153.5h2M462 153.5h1M468 153.5h2M66 154.5h41M108 154.5h2M111 154.5h14M126 154.5h2M132 154.5h2M218 154.5h32M251 154.5h4M256 154.5h1M258 154.5h1M261 154.5h2M266 154.5h2M269 154.5h4M274 154.5h4M281 154.5h2M285 154.5h20M306 154.5h2M314 154.5h1M387 154.5h1M397 154.5h1M399 154.5h1M413 154.5h4M418 154.5h4M426 154.5h1M446 154.5h4M452 154.5h2M456 154.5h2M461 154.5h1M464 154.5h3M468 154.5h2M66 155.5h47M114 155.5h9M125 155.5h2M129 155.5h1M131 155.5h2M218 155.5h36M255 155.5h5M262 155.5h6M269 155.5h1M272 155.5h1M275 155.5h3M279 155.5h3M285 155.5h20M309 155.5h2M387 155.5h1M394 155.5h1M399 155.5h1M411 155.5h1M413 155.5h2M418 155.5h2M426 155.5h1M432 155.5h1M442 155.5h1M445 155.5h6M452 155.5h3M456 155.5h2M460 155.5h1M464 155.5h2M467 155.5h2M68 156.5h56M125 156.5h4M136 156.5h1M218 156.5h36M256 156.5h15M272 156.5h2M276 156.5h7M284 156.5h22M382 156.5h2M385 156.5h1M394 156.5h1M406 156.5h1M409 156.5h3M413 156.5h2M435 156.5h1M438 156.5h4M447 156.5h4M452 156.5h7M66 157.5h38M105 157.5h7M113 157.5h1M115 157.5h13M136 157.5h1M218 157.5h30M249 157.5h8M258 157.5h9M269 157.5h1M272 157.5h1M275 157.5h29M309 157.5h1M382 157.5h2M389 157.5h2M396 157.5h2M409 157.5h2M415 157.5h1M417 157.5h2M426 157.5h1M428 157.5h2M432 157.5h1M435 157.5h1M440 157.5h3M449 157.5h11M463 157.5h2M66 158.5h38M105 158.5h10M116 158.5h1M118 158.5h5M124 158.5h4M131 158.5h4M387 158.5h2M390 158.5h1M396 158.5h2M399 158.5h1M409 158.5h1M413 158.5h2M417 158.5h2M425 158.5h2M430 158.5h1M443 158.5h1M449 158.5h4M459 158.5h1M461 158.5h4" stroke="#000" stroke-width="1" fill="none"/>
<path d="M92.4 57.9h1.8v1.8h-1.8zM108.3 66.5h1.8v1.8h-1.8zM85.4 75.0h1.8v1.8h-1.8zM87.7 75.0h1.8v1.8h-1.8zM108.3 75.0h1.8v1.8h-1.8zM110.2 77.7h1.8v1.8h-1.8zM106.0 80.0h1.8v1.8h-1.8zM97.9 81.1h1.8v1.8h-1.8zM105.1 82.4h1.8v1.8h-1.8zM111.4 82.4h1.8v1.8h-1.8zM117.1 81.1h1.8v1.8h-1.8zM116.5 82.0h1.8v1.8h-1.8zM88.2 84.9h1.8v1.8h-1.8zM110.8 84.9h1.8v1.8h-1.8zM111.6 85.6h1.8v1.8h-1.8zM96.8 85.8h1.8v1.8h-1.8zM95.6 88.4h1.8v1.8h-1.8zM101.9 87.1h1.8v1.8h-1.8zM106.0 87.1h1.8v1.8h-1.8zM100.0 93.2h1.8v1.8h-1.8zM115.3 91.9h1.8v1.8h-1.8zM108.3 95.7h1.8v1.8h-1.8zM102.9 98.0h1.8v1.8h-1.8zM91.1 100.4h1.8v1.8h-1.8zM92.1 100.9h1.8v1.8h-1.8zM111.1 103.1h1.8v1.8h-1.8zM117.2 101.8h1.8v1.8h-1.8zM100.0 105.3h1.8v1.8h-1.8zM162.9 59.1h1.8v1.8h-1.8zM129.0 66.3h1.8v1.8h-1.8zM147.4 67.6h1.8v1.8h-1.8zM126.6 73.5h1.8v1.8h-1.8zM127.9 76.1h1.8v1.8h-1.8zM134.0 76.1h1.8v1.8h-1.8zM148.5 73.8h1.8v1.8h-1.8zM161.9 71.5h1.8v1.8h-1.8zM168.2 71.5h1.8v1.8h-1.8zM172.4 72.5h1.8v1.8h-1.8zM156.0 74.8h1.8v1.8h-1.8zM155.1 76.1h1.8v1.8h-1.8zM144.5 77.5h1.8v1.8h-1.8zM151.6 77.7h1.8v1.8h-1.8zM167.1 77.7h1.8v1.8h-1.8zM137.1 81.1h1.8v1.8h-1.8zM155.6 81.1h1.8v1.8h-1.8zM164.5 82.5h1.8v1.8h-1.8zM165.6 82.5h1.8v1.8h-1.8zM153.7 83.4h1.8v1.8h-1.8zM129.0 85.1h1.8v1.8h-1.8zM147.4 86.0h1.8v1.8h-1.8zM155.1 86.4h1.8v1.8h-1.8zM157.9 87.3h1.8v1.8h-1.8zM162.9 86.0h1.8v1.8h-1.8zM139.3 89.6h1.8v1.8h-1.8zM140.6 90.9h1.8v1.8h-1.8zM123.5 88.7h1.8v1.8h-1.8zM166.5 92.2h1.8v1.8h-1.8zM154.7 93.3h1.8v1.8h-1.8zM156.9 93.3h1.8v1.8h-1.8zM166.5 95.9h1.8v1.8h-1.8zM165.2 99.2h1.8v1.8h-1.8zM130.1 104.1h1.8v1.8h-1.8zM133.2 104.1h1.8v1.8h-1.8zM139.3 107.7h1.8v1.8h-1.8zM155.6 107.7h1.8v1.8h-1.8zM137.3 115.0h1.8v1.8h-1.8zM133.9 119.8h1.8v1.8h-1.8zM143.2 118.7h1.8v1.8h-1.8zM150.6 122.0h1.8v1.8h-1.8zM161.0 122.2h1.8v1.8h-1.8zM130.9 128.4h1.8v1.8h-1.8zM142.3 128.4h1.8v1.8h-1.8zM136.1 130.6h1.8v1.8h-1.8zM144.5 131.7h1.8v1.8h-1.8zM152.9 131.7h1.8v1.8h-1.8zM155.9 130.6h1.8v1.8h-1.8zM141.2 134.0h1.8v1.8h-1.8zM146.5 134.5h1.8v1.8h-1.8zM150.6 135.4h1.8v1.8h-1.8zM154.5 134.5h1.8v1.8h-1.8zM133.1 134.5h1.8v1.8h-1.8zM138.4 137.0h1.8v1.8h-1.8zM147.6 139.2h1.8v1.8h-1.8zM152.9 137.9h1.8v1.8h-1.8zM148.4 141.8h1.8v1.8h-1.8zM138.4 141.2h1.8v1.8h-1.8zM172.4 140.6h1.8v1.8h-1.8zM174.4 142.9h1.8v1.8h-1.8zM141.2 147.3h1.8v1.8h-1.8zM144.3 147.3h1.8v1.8h-1.8zM147.6 147.9h1.8v1.8h-1.8zM142.3 153.5h1.8v1.8h-1.8zM395.1 58.5h1.8v1.8h-1.8zM399.3 61.1h1.8v1.8h-1.8zM412.7 59.5h1.8v1.8h-1.8zM420.2 67.0h1.8v1.8h-1.8zM429.5 63.3h1.8v1.8h-1.8zM432.5 52.1h1.8v1.8h-1.8zM434.0 55.1h1.8v1.8h-1.8zM437.7 55.1h1.8v1.8h-1.8zM440.7 49.8h1.8v1.8h-1.8zM442.2 46.1h1.8v1.8h-1.8z" fill="#000"/>
<rect x="65.2" y="32.8" width="114.80" height="126.80" fill="none" stroke="#000" stroke-width="1.6"/>
<line x1="122.2" y1="32.8" x2="122.2" y2="159.6" stroke="#000" stroke-width="2.2"/>
<line x1="65.2" y1="112.0" x2="180.0" y2="112.0" stroke="#000" stroke-width="2.2"/>
<path d="M65.20 159.6v5.3 M65.2 159.60h-5.3 M73.84 159.6v3.5 M65.2 150.06h-3.5 M78.89 159.6v3.5 M65.2 144.48h-3.5 M82.48 159.6v3.5 M65.2 140.51h-3.5 M85.26 159.6v3.5 M65.2 137.44h-3.5 M87.53 159.6v3.5 M65.2 134.93h-3.5 M89.45 159.6v3.5 M65.2 132.81h-3.5 M91.12 159.6v3.5 M65.2 130.97h-3.5 M92.59 159.6v3.5 M65.2 129.35h-3.5 M93.90 159.6v5.3 M65.2 127.90h-5.3 M102.54 159.6v3.5 M65.2 118.36h-3.5 M107.59 159.6v3.5 M65.2 112.78h-3.5 M111.18 159.6v3.5 M65.2 108.81h-3.5 M113.96 159.6v3.5 M65.2 105.74h-3.5 M116.23 159.6v3.5 M65.2 103.23h-3.5 M118.15 159.6v3.5 M65.2 101.11h-3.5 M119.82 159.6v3.5 M65.2 99.27h-3.5 M121.29 159.6v3.5 M65.2 97.65h-3.5 M122.60 159.6v5.3 M65.2 96.20h-5.3 M131.24 159.6v3.5 M65.2 86.66h-3.5 M136.29 159.6v3.5 M65.2 81.08h-3.5 M139.88 159.6v3.5 M65.2 77.11h-3.5 M142.66 159.6v3.5 M65.2 74.04h-3.5 M144.93 159.6v3.5 M65.2 71.53h-3.5 M146.85 159.6v3.5 M65.2 69.41h-3.5 M148.52 159.6v3.5 M65.2 67.57h-3.5 M149.99 159.6v3.5 M65.2 65.95h-3.5 M151.30 159.6v5.3 M65.2 64.50h-5.3 M159.94 159.6v3.5 M65.2 54.96h-3.5 M164.99 159.6v3.5 M65.2 49.38h-3.5 M168.58 159.6v3.5 M65.2 45.41h-3.5 M171.36 159.6v3.5 M65.2 42.34h-3.5 M173.63 159.6v3.5 M65.2 39.83h-3.5 M175.55 159.6v3.5 M65.2 37.71h-3.5 M177.22 159.6v3.5 M65.2 35.87h-3.5 M178.69 159.6v3.5 M65.2 34.25h-3.5 M180.0 159.6v5.3 M65.2 32.8h-5.3" stroke="#000" stroke-width="1.2" fill="none"/>
<text x="58.20" y="177.50" font-family='"Liberation Sans", sans-serif' font-size="12" font-weight="normal" text-anchor="start" textLength="9.60" lengthAdjust="spacingAndGlyphs" stroke="#000" stroke-width="0.35">10</text>
<text x="67.40" y="171.50" font-family='"Liberation Sans", sans-serif' font-size="11" font-weight="normal" text-anchor="start" textLength="5.60" lengthAdjust="spacingAndGlyphs" stroke="#000" stroke-width="0.35">0</text>
<text x="57.70" y="167.60" font-family='"Liberation Sans", sans-serif' font-size="10.00" font-weight="normal" text-anchor="start" textLength="11.00" lengthAdjust="spacingAndGlyphs" transform="rotate(-90 57.70 167.60)" stroke="#000" stroke-width="0.35">10</text>
<text x="50.90" y="156.10" font-family='"Liberation Sans", sans-serif' font-size="8.50" font-weight="normal" text-anchor="start" textLength="5.60" lengthAdjust="spacingAndGlyphs" transform="rotate(-90 50.90 156.10)" stroke="#000" stroke-width="0.35">0</text>
<text x="86.90" y="177.50" font-family='"Liberation Sans", sans-serif' font-size="12" font-weight="normal" text-anchor="start" textLength="9.60" lengthAdjust="spacingAndGlyphs" stroke="#000" stroke-width="0.35">10</text>
<text x="96.10" y="171.50" font-family='"Liberation Sans", sans-serif' font-size="11" font-weight="normal" text-anchor="start" textLength="5.60" lengthAdjust="spacingAndGlyphs" stroke="#000" stroke-width="0.35">1</text>
<text x="57.70" y="135.90" font-family='"Liberation Sans", sans-serif' font-size="10.00" font-weight="normal" text-anchor="start" textLength="11.00" lengthAdjust="spacingAndGlyphs" transform="rotate(-90 57.70 135.90)" stroke="#000" stroke-width="0.35">10</text>
<text x="50.90" y="124.40" font-family='"Liberation Sans", sans-serif' font-size="8.50" font-weight="normal" text-anchor="start" textLength="5.60" lengthAdjust="spacingAndGlyphs" transform="rotate(-90 50.90 124.40)" stroke="#000" stroke-width="0.35">1</text>
<text x="115.60" y="177.50" font-family='"Liberation Sans", sans-serif' font-size="12" font-weight="normal" text-anchor="start" textLength="9.60" lengthAdjust="spacingAndGlyphs" stroke="#000" stroke-width="0.35">10</text>
<text x="124.80" y="171.50" font-family='"Liberation Sans", sans-serif' font-size="11" font-weight="normal" text-anchor="start" textLength="5.60" lengthAdjust="spacingAndGlyphs" stroke="#000" stroke-width="0.35">2</text>
<text x="57.70" y="104.20" font-family='"Liberation Sans", sans-serif' font-size="10.00" font-weight="normal" text-anchor="start" textLength="11.00" lengthAdjust="spacingAndGlyphs" transform="rotate(-90 57.70 104.20)" stroke="#000" stroke-width="0.35">10</text>
<text x="50.90" y="92.70" font-family='"Liberation Sans", sans-serif' font-size="8.50" font-weight="normal" text-anchor="start" textLength="5.60" lengthAdjust="spacingAndGlyphs" transform="rotate(-90 50.90 92.70)" stroke="#000" stroke-width="0.35">2</text>
<text x="144.30" y="177.50" font-family='"Liberation Sans", sans-serif' font-size="12" font-weight="normal" text-anchor="start" textLength="9.60" lengthAdjust="spacingAndGlyphs" stroke="#000" stroke-width="0.35">10</text>
<text x="153.50" y="171.50" font-family='"Liberation Sans", sans-serif' font-size="11" font-weight="normal" text-anchor="start" textLength="5.60" lengthAdjust="spacingAndGlyphs" stroke="#000" stroke-width="0.35">3</text>
<text x="57.70" y="72.50" font-family='"Liberation Sans", sans-serif' font-size="10.00" font-weight="normal" text-anchor="start" textLength="11.00" lengthAdjust="spacingAndGlyphs" transform="rotate(-90 57.70 72.50)" stroke="#000" stroke-width="0.35">10</text>
<text x="50.90" y="61.00" font-family='"Liberation Sans", sans-serif' font-size="8.50" font-weight="normal" text-anchor="start" textLength="5.60" lengthAdjust="spacingAndGlyphs" transform="rotate(-90 50.90 61.00)" stroke="#000" stroke-width="0.35">3</text>
<text x="172.20" y="177.50" font-family='"Liberation Sans", sans-serif' font-size="12" font-weight="normal" text-anchor="start" textLength="9.60" lengthAdjust="spacingAndGlyphs" stroke="#000" stroke-width="0.35">10</text>
<path d="M181.50 168.20L183.10 165.20" stroke="#000" stroke-width="1.1"/>
<text x="57.70" y="42.60" font-family='"Liberation Sans", sans-serif' font-size="10.00" font-weight="normal" text-anchor="start" textLength="11.00" lengthAdjust="spacingAndGlyphs" transform="rotate(-90 57.70 42.60)" stroke="#000" stroke-width="0.35">10</text>
<text x="50.90" y="31.10" font-family='"Liberation Sans", sans-serif' font-size="8.50" font-weight="normal" text-anchor="start" textLength="5.60" lengthAdjust="spacingAndGlyphs" transform="rotate(-90 50.90 31.10)" stroke="#000" stroke-width="0.35">4</text>
<text x="121.00" y="188.60" font-family='"Liberation Sans", sans-serif' font-size="12" font-weight="bold" text-anchor="middle" textLength="25.4" lengthAdjust="spacingAndGlyphs" >FL1-H</text>
<text x="44.90" y="97.00" font-family='"Liberation Sans", sans-serif' font-size="9.60" font-weight="bold" text-anchor="middle" textLength="28.40" lengthAdjust="spacingAndGlyphs" transform="rotate(-90 44.90 97.00)" >FL3-H</text>
<rect x="69.3" y="36.6" width="50.30" height="18.60" fill="#fff" stroke="#222" stroke-width="1.3"/>
<text x="70.20" y="51.40" font-family='"Liberation Serif", serif' font-size="16" font-weight="normal" text-anchor="start" textLength="39.2" lengthAdjust="spacingAndGlyphs" stroke="#000" stroke-width="0.25">Day 0</text>
<rect x="217.2" y="34.3" width="117.80" height="124.00" fill="none" stroke="#000" stroke-width="1.6"/>
<line x1="278.3" y1="34.3" x2="278.3" y2="158.3" stroke="#000" stroke-width="2.2"/>
<line x1="217.2" y1="112.2" x2="335.0" y2="112.2" stroke="#000" stroke-width="2.2"/>
<path d="M217.20 158.3v5.3 M217.2 158.30h-5.3 M226.07 158.3v3.5 M217.2 148.97h-3.5 M231.25 158.3v3.5 M217.2 143.51h-3.5 M234.93 158.3v3.5 M217.2 139.64h-3.5 M237.78 158.3v3.5 M217.2 136.63h-3.5 M240.12 158.3v3.5 M217.2 134.18h-3.5 M242.09 158.3v3.5 M217.2 132.10h-3.5 M243.80 158.3v3.5 M217.2 130.30h-3.5 M245.30 158.3v3.5 M217.2 128.72h-3.5 M246.65 158.3v5.3 M217.2 127.30h-5.3 M255.52 158.3v3.5 M217.2 117.97h-3.5 M260.70 158.3v3.5 M217.2 112.51h-3.5 M264.38 158.3v3.5 M217.2 108.64h-3.5 M267.23 158.3v3.5 M217.2 105.63h-3.5 M269.57 158.3v3.5 M217.2 103.18h-3.5 M271.54 158.3v3.5 M217.2 101.10h-3.5 M273.25 158.3v3.5 M217.2 99.30h-3.5 M274.75 158.3v3.5 M217.2 97.72h-3.5 M276.10 158.3v5.3 M217.2 96.30h-5.3 M284.97 158.3v3.5 M217.2 86.97h-3.5 M290.15 158.3v3.5 M217.2 81.51h-3.5 M293.83 158.3v3.5 M217.2 77.64h-3.5 M296.68 158.3v3.5 M217.2 74.63h-3.5 M299.02 158.3v3.5 M217.2 72.18h-3.5 M300.99 158.3v3.5 M217.2 70.10h-3.5 M302.70 158.3v3.5 M217.2 68.30h-3.5 M304.20 158.3v3.5 M217.2 66.72h-3.5 M305.55 158.3v5.3 M217.2 65.30h-5.3 M314.42 158.3v3.5 M217.2 55.97h-3.5 M319.60 158.3v3.5 M217.2 50.51h-3.5 M323.28 158.3v3.5 M217.2 46.64h-3.5 M326.13 158.3v3.5 M217.2 43.63h-3.5 M328.47 158.3v3.5 M217.2 41.18h-3.5 M330.44 158.3v3.5 M217.2 39.10h-3.5 M332.15 158.3v3.5 M217.2 37.30h-3.5 M333.65 158.3v3.5 M217.2 35.72h-3.5 M335.0 158.3v5.3 M217.2 34.3h-5.3" stroke="#000" stroke-width="1.2" fill="none"/>
<text x="210.02" y="176.20" font-family='"Liberation Sans", sans-serif' font-size="12" font-weight="normal" text-anchor="start" textLength="9.85" lengthAdjust="spacingAndGlyphs" stroke="#000" stroke-width="0.35">10</text>
<text x="219.46" y="170.20" font-family='"Liberation Sans", sans-serif' font-size="11" font-weight="normal" text-anchor="start" textLength="5.75" lengthAdjust="spacingAndGlyphs" stroke="#000" stroke-width="0.35">0</text>
<text x="209.50" y="166.12" font-family='"Liberation Sans", sans-serif' font-size="10.26" font-weight="normal" text-anchor="start" textLength="10.76" lengthAdjust="spacingAndGlyphs" transform="rotate(-90 209.50 166.12)" stroke="#000" stroke-width="0.35">10</text>
<text x="202.53" y="154.88" font-family='"Liberation Sans", sans-serif' font-size="8.72" font-weight="normal" text-anchor="start" textLength="5.48" lengthAdjust="spacingAndGlyphs" transform="rotate(-90 202.53 154.88)" stroke="#000" stroke-width="0.35">0</text>
<text x="239.47" y="176.20" font-family='"Liberation Sans", sans-serif' font-size="12" font-weight="normal" text-anchor="start" textLength="9.85" lengthAdjust="spacingAndGlyphs" stroke="#000" stroke-width="0.35">10</text>
<text x="248.91" y="170.20" font-family='"Liberation Sans", sans-serif' font-size="11" font-weight="normal" text-anchor="start" textLength="5.75" lengthAdjust="spacingAndGlyphs" stroke="#000" stroke-width="0.35">1</text>
<text x="209.50" y="135.12" font-family='"Liberation Sans", sans-serif' font-size="10.26" font-weight="normal" text-anchor="start" textLength="10.76" lengthAdjust="spacingAndGlyphs" transform="rotate(-90 209.50 135.12)" stroke="#000" stroke-width="0.35">10</text>
<text x="202.53" y="123.88" font-family='"Liberation Sans", sans-serif' font-size="8.72" font-weight="normal" text-anchor="start" textLength="5.48" lengthAdjust="spacingAndGlyphs" transform="rotate(-90 202.53 123.88)" stroke="#000" stroke-width="0.35">1</text>
<text x="268.92" y="176.20" font-family='"Liberation Sans", sans-serif' font-size="12" font-weight="normal" text-anchor="start" textLength="9.85" lengthAdjust="spacingAndGlyphs" stroke="#000" stroke-width="0.35">10</text>
<text x="278.36" y="170.20" font-family='"Liberation Sans", sans-serif' font-size="11" font-weight="normal" text-anchor="start" textLength="5.75" lengthAdjust="spacingAndGlyphs" stroke="#000" stroke-width="0.35">2</text>
<text x="209.50" y="104.12" font-family='"Liberation Sans", sans-serif' font-size="10.26" font-weight="normal" text-anchor="start" textLength="10.76" lengthAdjust="spacingAndGlyphs" transform="rotate(-90 209.50 104.12)" stroke="#000" stroke-width="0.35">10</text>
<text x="202.53" y="92.88" font-family='"Liberation Sans", sans-serif' font-size="8.72" font-weight="normal" text-anchor="start" textLength="5.48" lengthAdjust="spacingAndGlyphs" transform="rotate(-90 202.53 92.88)" stroke="#000" stroke-width="0.35">2</text>
<text x="298.37" y="176.20" font-family='"Liberation Sans", sans-serif' font-size="12" font-weight="normal" text-anchor="start" textLength="9.85" lengthAdjust="spacingAndGlyphs" stroke="#000" stroke-width="0.35">10</text>
<text x="307.81" y="170.20" font-family='"Liberation Sans", sans-serif' font-size="11" font-weight="normal" text-anchor="start" textLength="5.75" lengthAdjust="spacingAndGlyphs" stroke="#000" stroke-width="0.35">3</text>
<text x="209.50" y="73.12" font-family='"Liberation Sans", sans-serif' font-size="10.26" font-weight="normal" text-anchor="start" textLength="10.76" lengthAdjust="spacingAndGlyphs" transform="rotate(-90 209.50 73.12)" stroke="#000" stroke-width="0.35">10</text>
<text x="202.53" y="61.88" font-family='"Liberation Sans", sans-serif' font-size="8.72" font-weight="normal" text-anchor="start" textLength="5.48" lengthAdjust="spacingAndGlyphs" transform="rotate(-90 202.53 61.88)" stroke="#000" stroke-width="0.35">3</text>
<text x="325.32" y="176.20" font-family='"Liberation Sans", sans-serif' font-size="12" font-weight="normal" text-anchor="start" textLength="9.85" lengthAdjust="spacingAndGlyphs" stroke="#000" stroke-width="0.35">10</text>
<text x="334.76" y="170.20" font-family='"Liberation Sans", sans-serif' font-size="11" font-weight="normal" text-anchor="start" textLength="5.75" lengthAdjust="spacingAndGlyphs" stroke="#000" stroke-width="0.35">4</text>
<text x="209.50" y="42.12" font-family='"Liberation Sans", sans-serif' font-size="10.26" font-weight="normal" text-anchor="start" textLength="10.76" lengthAdjust="spacingAndGlyphs" transform="rotate(-90 209.50 42.12)" stroke="#000" stroke-width="0.35">10</text>
<text x="202.53" y="30.88" font-family='"Liberation Sans", sans-serif' font-size="8.72" font-weight="normal" text-anchor="start" textLength="5.48" lengthAdjust="spacingAndGlyphs" transform="rotate(-90 202.53 30.88)" stroke="#000" stroke-width="0.35">4</text>
<text x="274.50" y="187.30" font-family='"Liberation Sans", sans-serif' font-size="12" font-weight="bold" text-anchor="middle" textLength="27.4" lengthAdjust="spacingAndGlyphs" >FL1-H</text>
<text x="196.37" y="97.10" font-family='"Liberation Sans", sans-serif' font-size="9.85" font-weight="bold" text-anchor="middle" textLength="27.77" lengthAdjust="spacingAndGlyphs" transform="rotate(-90 196.37 97.10)" >FL3-H</text>
<rect x="225.9" y="36.6" width="40.90" height="19.00" fill="#fff" stroke="#222" stroke-width="1.3"/>
<text x="227.60" y="51.00" font-family='"Liberation Serif", serif' font-size="16" font-weight="normal" text-anchor="start" textLength="36.9" lengthAdjust="spacingAndGlyphs" stroke="#000" stroke-width="0.25">Day 1</text>
<rect x="381.5" y="32.7" width="130.50" height="127.30" fill="none" stroke="#000" stroke-width="1.6"/>
<line x1="447.0" y1="32.7" x2="447.0" y2="160.0" stroke="#000" stroke-width="2.2"/>
<line x1="381.5" y1="112.3" x2="512.0" y2="112.3" stroke="#000" stroke-width="2.2"/>
<path d="M381.50 160.0v5.3 M381.5 160.00h-5.3 M391.32 160.0v3.5 M381.5 150.42h-3.5 M397.07 160.0v3.5 M381.5 144.82h-3.5 M401.14 160.0v3.5 M381.5 140.84h-3.5 M404.30 160.0v3.5 M381.5 137.76h-3.5 M406.89 160.0v3.5 M381.5 135.24h-3.5 M409.07 160.0v3.5 M381.5 133.10h-3.5 M410.96 160.0v3.5 M381.5 131.26h-3.5 M412.63 160.0v3.5 M381.5 129.63h-3.5 M414.12 160.0v5.3 M381.5 128.18h-5.3 M423.95 160.0v3.5 M381.5 118.59h-3.5 M429.69 160.0v3.5 M381.5 112.99h-3.5 M433.77 160.0v3.5 M381.5 109.01h-3.5 M436.93 160.0v3.5 M381.5 105.93h-3.5 M439.51 160.0v3.5 M381.5 103.41h-3.5 M441.70 160.0v3.5 M381.5 101.28h-3.5 M443.59 160.0v3.5 M381.5 99.43h-3.5 M445.26 160.0v3.5 M381.5 97.81h-3.5 M446.75 160.0v5.3 M381.5 96.35h-5.3 M456.57 160.0v3.5 M381.5 86.77h-3.5 M462.32 160.0v3.5 M381.5 81.17h-3.5 M466.39 160.0v3.5 M381.5 77.19h-3.5 M469.55 160.0v3.5 M381.5 74.11h-3.5 M472.14 160.0v3.5 M381.5 71.59h-3.5 M474.32 160.0v3.5 M381.5 69.45h-3.5 M476.21 160.0v3.5 M381.5 67.61h-3.5 M477.88 160.0v3.5 M381.5 65.98h-3.5 M479.38 160.0v5.3 M381.5 64.53h-5.3 M489.20 160.0v3.5 M381.5 54.94h-3.5 M494.94 160.0v3.5 M381.5 49.34h-3.5 M499.02 160.0v3.5 M381.5 45.36h-3.5 M502.18 160.0v3.5 M381.5 42.28h-3.5 M504.76 160.0v3.5 M381.5 39.76h-3.5 M506.95 160.0v3.5 M381.5 37.63h-3.5 M508.84 160.0v3.5 M381.5 35.78h-3.5 M510.51 160.0v3.5 M381.5 34.16h-3.5 M512.0 160.0v5.3 M381.5 32.7h-5.3" stroke="#000" stroke-width="1.2" fill="none"/>
<text x="373.54" y="177.90" font-family='"Liberation Sans", sans-serif' font-size="12" font-weight="normal" text-anchor="start" textLength="10.91" lengthAdjust="spacingAndGlyphs" stroke="#000" stroke-width="0.35">10</text>
<text x="384.00" y="171.90" font-family='"Liberation Sans", sans-serif' font-size="11" font-weight="normal" text-anchor="start" textLength="6.37" lengthAdjust="spacingAndGlyphs" stroke="#000" stroke-width="0.35">0</text>
<text x="372.97" y="168.03" font-family='"Liberation Sans", sans-serif' font-size="11.37" font-weight="normal" text-anchor="start" textLength="11.04" lengthAdjust="spacingAndGlyphs" transform="rotate(-90 372.97 168.03)" stroke="#000" stroke-width="0.35">10</text>
<text x="365.24" y="156.49" font-family='"Liberation Sans", sans-serif' font-size="9.66" font-weight="normal" text-anchor="start" textLength="5.62" lengthAdjust="spacingAndGlyphs" transform="rotate(-90 365.24 156.49)" stroke="#000" stroke-width="0.35">0</text>
<text x="406.17" y="177.90" font-family='"Liberation Sans", sans-serif' font-size="12" font-weight="normal" text-anchor="start" textLength="10.91" lengthAdjust="spacingAndGlyphs" stroke="#000" stroke-width="0.35">10</text>
<text x="416.63" y="171.90" font-family='"Liberation Sans", sans-serif' font-size="11" font-weight="normal" text-anchor="start" textLength="6.37" lengthAdjust="spacingAndGlyphs" stroke="#000" stroke-width="0.35">1</text>
<text x="372.97" y="136.21" font-family='"Liberation Sans", sans-serif' font-size="11.37" font-weight="normal" text-anchor="start" textLength="11.04" lengthAdjust="spacingAndGlyphs" transform="rotate(-90 372.97 136.21)" stroke="#000" stroke-width="0.35">10</text>
<text x="365.24" y="124.66" font-family='"Liberation Sans", sans-serif' font-size="9.66" font-weight="normal" text-anchor="start" textLength="5.62" lengthAdjust="spacingAndGlyphs" transform="rotate(-90 365.24 124.66)" stroke="#000" stroke-width="0.35">1</text>
<text x="438.79" y="177.90" font-family='"Liberation Sans", sans-serif' font-size="12" font-weight="normal" text-anchor="start" textLength="10.91" lengthAdjust="spacingAndGlyphs" stroke="#000" stroke-width="0.35">10</text>
<text x="449.25" y="171.90" font-family='"Liberation Sans", sans-serif' font-size="11" font-weight="normal" text-anchor="start" textLength="6.37" lengthAdjust="spacingAndGlyphs" stroke="#000" stroke-width="0.35">2</text>
<text x="372.97" y="104.38" font-family='"Liberation Sans", sans-serif' font-size="11.37" font-weight="normal" text-anchor="start" textLength="11.04" lengthAdjust="spacingAndGlyphs" transform="rotate(-90 372.97 104.38)" stroke="#000" stroke-width="0.35">10</text>
<text x="365.24" y="92.84" font-family='"Liberation Sans", sans-serif' font-size="9.66" font-weight="normal" text-anchor="start" textLength="5.62" lengthAdjust="spacingAndGlyphs" transform="rotate(-90 365.24 92.84)" stroke="#000" stroke-width="0.35">2</text>
<text x="471.42" y="177.90" font-family='"Liberation Sans", sans-serif' font-size="12" font-weight="normal" text-anchor="start" textLength="10.91" lengthAdjust="spacingAndGlyphs" stroke="#000" stroke-width="0.35">10</text>
<text x="481.88" y="171.90" font-family='"Liberation Sans", sans-serif' font-size="11" font-weight="normal" text-anchor="start" textLength="6.37" lengthAdjust="spacingAndGlyphs" stroke="#000" stroke-width="0.35">3</text>
<text x="372.97" y="72.56" font-family='"Liberation Sans", sans-serif' font-size="11.37" font-weight="normal" text-anchor="start" textLength="11.04" lengthAdjust="spacingAndGlyphs" transform="rotate(-90 372.97 72.56)" stroke="#000" stroke-width="0.35">10</text>
<text x="365.24" y="61.01" font-family='"Liberation Sans", sans-serif' font-size="9.66" font-weight="normal" text-anchor="start" textLength="5.62" lengthAdjust="spacingAndGlyphs" transform="rotate(-90 365.24 61.01)" stroke="#000" stroke-width="0.35">3</text>
<text x="501.74" y="177.90" font-family='"Liberation Sans", sans-serif' font-size="12" font-weight="normal" text-anchor="start" textLength="10.91" lengthAdjust="spacingAndGlyphs" stroke="#000" stroke-width="0.35">10</text>
<text x="512.20" y="171.90" font-family='"Liberation Sans", sans-serif' font-size="11" font-weight="normal" text-anchor="start" textLength="6.37" lengthAdjust="spacingAndGlyphs" stroke="#000" stroke-width="0.35">4</text>
<text x="372.97" y="42.53" font-family='"Liberation Sans", sans-serif' font-size="11.37" font-weight="normal" text-anchor="start" textLength="11.04" lengthAdjust="spacingAndGlyphs" transform="rotate(-90 372.97 42.53)" stroke="#000" stroke-width="0.35">10</text>
<text x="365.24" y="30.99" font-family='"Liberation Sans", sans-serif' font-size="9.66" font-weight="normal" text-anchor="start" textLength="5.62" lengthAdjust="spacingAndGlyphs" transform="rotate(-90 365.24 30.99)" stroke="#000" stroke-width="0.35">4</text>
<text x="444.40" y="189.00" font-family='"Liberation Sans", sans-serif' font-size="12" font-weight="bold" text-anchor="middle" textLength="29.8" lengthAdjust="spacingAndGlyphs" >FL1-H</text>
<text x="358.42" y="97.15" font-family='"Liberation Sans", sans-serif' font-size="10.91" font-weight="bold" text-anchor="middle" textLength="28.51" lengthAdjust="spacingAndGlyphs" transform="rotate(-90 358.42 97.15)" >FL3-H</text>
<rect x="385.8" y="35.0" width="40.80" height="19.60" fill="#fff" stroke="#222" stroke-width="1.3"/>
<text x="387.00" y="49.20" font-family='"Liberation Serif", serif' font-size="16" font-weight="normal" text-anchor="start" textLength="38.7" lengthAdjust="spacingAndGlyphs" stroke="#000" stroke-width="0.25">Day 2</text>
<rect x="386.3" y="39" width="1.7" height="11" fill="#888"/>
<rect x="386.3" y="35.6" width="39.6" height="1.2" fill="#aaa"/>
<rect x="47" y="210.3" width="440" height="3.9" fill="#000"/>
<path d="M484 202.8 L484 221.8 L503.6 212.3 Z" fill="#000"/>
<text x="274.10" y="230.20" font-family='"Liberation Serif", serif' font-size="16" font-weight="normal" text-anchor="middle" >Annexin V</text>
<text x="-1.00" y="276.90" font-family='"Liberation Sans", sans-serif' font-size="25" font-weight="bold" text-anchor="start" >B</text>
<path d="M43.8 287.2H241.0V386.4" stroke="#000" stroke-width="1.5" fill="none"/>
<path d="M43.8 286.5V392.7M37.5 386.4H241.0" stroke="#000" stroke-width="2.0" fill="none"/>
<path d="M37.5 287.20H43.8" stroke="#000" stroke-width="1.6"/>
<text x="33.80" y="290.60" font-family='"Liberation Serif", serif' font-size="10.2" font-weight="normal" text-anchor="end" >100</text>
<path d="M37.5 312.00H43.8" stroke="#000" stroke-width="1.6"/>
<text x="33.80" y="315.40" font-family='"Liberation Serif", serif' font-size="10.2" font-weight="normal" text-anchor="end" >75</text>
<path d="M37.5 336.80H43.8" stroke="#000" stroke-width="1.6"/>
<text x="33.80" y="340.20" font-family='"Liberation Serif", serif' font-size="10.2" font-weight="normal" text-anchor="end" >50</text>
<path d="M37.5 361.60H43.8" stroke="#000" stroke-width="1.6"/>
<text x="33.80" y="365.00" font-family='"Liberation Serif", serif' font-size="10.2" font-weight="normal" text-anchor="end" >25</text>
<path d="M37.5 386.40H43.8" stroke="#000" stroke-width="1.6"/>
<text x="33.80" y="389.80" font-family='"Liberation Serif", serif' font-size="10.2" font-weight="normal" text-anchor="end" >0</text>
<path d="M43.80 386.4V392.7" stroke="#000" stroke-width="1.8"/>
<text x="43.80" y="405.40" font-family='"Liberation Serif", serif' font-size="10.5" font-weight="normal" text-anchor="middle" >0</text>
<path d="M142.40 386.4V392.7" stroke="#000" stroke-width="1.8"/>
<text x="142.40" y="405.40" font-family='"Liberation Serif", serif' font-size="10.5" font-weight="normal" text-anchor="middle" >1</text>
<path d="M241.00 386.4V392.7" stroke="#000" stroke-width="1.8"/>
<text x="241.00" y="405.40" font-family='"Liberation Serif", serif' font-size="10.5" font-weight="normal" text-anchor="middle" >2</text>
<text x="10.20" y="338.20" font-family='"Liberation Serif", serif' font-size="11" font-weight="normal" text-anchor="middle" transform="rotate(-90 10.20 338.20)" >% viable cells</text>
<text x="94.00" y="427.00" font-family='"Liberation Serif", serif' font-size="11.5" font-weight="normal" text-anchor="start" textLength="117.3" lengthAdjust="spacingAndGlyphs" >Day in culture (no G-CSF)</text>
<path d="M43.80 294.50L142.20 331.60L241.00 374.50" stroke="#000" stroke-width="1.4" fill="none" stroke-dasharray="4 2"/>
<path d="M43.80 294.20L142.20 331.20L241.00 373.80" stroke="#000" stroke-width="1.4" fill="none" stroke-dasharray="1 1.2"/>
<path d="M43.80 297.40L142.40 342.60L241.00 376.60" stroke="#000" stroke-width="2.1" fill="none"/>
<path d="M43.80 290.20L48.10 294.50L43.80 298.80L39.50 294.50Z" fill="#000"/>
<path d="M142.20 327.30L146.50 331.60L142.20 335.90L137.90 331.60Z" fill="#000"/>
<path d="M241.00 370.20L245.30 374.50L241.00 378.80L236.70 374.50Z" fill="#000"/>
<circle cx="43.80" cy="294.20" r="4.20" fill="#000"/>
<circle cx="142.20" cy="331.20" r="4.20" fill="#000"/>
<circle cx="241.00" cy="373.80" r="4.20" fill="#000"/>
<rect x="39.50" y="293.10" width="8.60" height="8.60" fill="#000"/>
<rect x="138.10" y="338.30" width="8.60" height="8.60" fill="#000"/>
<rect x="236.70" y="372.30" width="8.60" height="8.60" fill="#000"/>
<text x="272.50" y="276.90" font-family='"Liberation Sans", sans-serif' font-size="25" font-weight="bold" text-anchor="start" >C</text>
<path d="M317.8 287.6H514.7V397.6" stroke="#000" stroke-width="1.5" fill="none"/>
<path d="M317.8 286.90000000000003V403.90000000000003M311.5 397.6H514.7" stroke="#000" stroke-width="2.0" fill="none"/>
<path d="M311.5 287.60H317.8" stroke="#000" stroke-width="1.6"/>
<text x="307.60" y="291.00" font-family='"Liberation Serif", serif' font-size="10.2" font-weight="normal" text-anchor="end" >100</text>
<path d="M311.5 315.10H317.8" stroke="#000" stroke-width="1.6"/>
<text x="307.60" y="318.50" font-family='"Liberation Serif", serif' font-size="10.2" font-weight="normal" text-anchor="end" >75</text>
<path d="M311.5 342.60H317.8" stroke="#000" stroke-width="1.6"/>
<text x="307.60" y="346.00" font-family='"Liberation Serif", serif' font-size="10.2" font-weight="normal" text-anchor="end" >50</text>
<path d="M311.5 370.10H317.8" stroke="#000" stroke-width="1.6"/>
<text x="307.60" y="373.50" font-family='"Liberation Serif", serif' font-size="10.2" font-weight="normal" text-anchor="end" >25</text>
<path d="M311.5 397.60H317.8" stroke="#000" stroke-width="1.6"/>
<text x="307.60" y="401.00" font-family='"Liberation Serif", serif' font-size="10.2" font-weight="normal" text-anchor="end" >0</text>
<path d="M317.80 397.6V403.90000000000003" stroke="#000" stroke-width="1.8"/>
<text x="317.80" y="416.60" font-family='"Liberation Serif", serif' font-size="10.5" font-weight="normal" text-anchor="middle" >0</text>
<path d="M416.25 397.6V403.90000000000003" stroke="#000" stroke-width="1.8"/>
<text x="416.25" y="416.60" font-family='"Liberation Serif", serif' font-size="10.5" font-weight="normal" text-anchor="middle" >1</text>
<path d="M514.70 397.6V403.90000000000003" stroke="#000" stroke-width="1.8"/>
<text x="514.70" y="416.60" font-family='"Liberation Serif", serif' font-size="10.5" font-weight="normal" text-anchor="middle" >2</text>
<text x="282.70" y="345.40" font-family='"Liberation Serif", serif' font-size="11" font-weight="normal" text-anchor="middle" transform="rotate(-90 282.70 345.40)" >% viable cells</text>
<text x="344.90" y="437.60" font-family='"Liberation Serif", serif' font-size="11.5" font-weight="normal" text-anchor="start" textLength="151.1" lengthAdjust="spacingAndGlyphs" >Day in culture (100 ng/mL G-CSF)</text>
<path d="M317.80 294.80L416.30 314.00L514.50 372.60" stroke="#000" stroke-width="1.4" fill="none" stroke-dasharray="4 2"/>
<path d="M317.80 294.50L416.30 312.60L514.50 372.30" stroke="#000" stroke-width="1.4" fill="none" stroke-dasharray="1 1.2"/>
<path d="M317.80 298.30L416.30 311.20L514.50 378.50" stroke="#000" stroke-width="2.1" fill="none"/>
<path d="M317.80 290.50L322.10 294.80L317.80 299.10L313.50 294.80Z" fill="#000"/>
<path d="M416.30 309.70L420.60 314.00L416.30 318.30L412.00 314.00Z" fill="#000"/>
<path d="M514.50 368.30L518.80 372.60L514.50 376.90L510.20 372.60Z" fill="#000"/>
<circle cx="317.80" cy="294.50" r="4.20" fill="#000"/>
<circle cx="416.30" cy="312.60" r="4.20" fill="#000"/>
<circle cx="514.50" cy="372.30" r="4.20" fill="#000"/>
<rect x="313.50" y="294.00" width="8.60" height="8.60" fill="#000"/>
<rect x="412.00" y="306.90" width="8.60" height="8.60" fill="#000"/>
<rect x="510.20" y="374.20" width="8.60" height="8.60" fill="#000"/>
<path d="M325.8 334.8H372.9" stroke="#000" stroke-width="1.6"/>
<rect x="345.10" y="330.60" width="9.00" height="9.00" fill="#000"/>
<path d="M325.8 362.7H372.9" stroke="#000" stroke-width="1.3" stroke-dasharray="1 1"/>
<circle cx="349.80" cy="362.70" r="4.30" fill="#000"/>
<path d="M325.8 389.6H372.9" stroke="#000" stroke-width="1.5" stroke-dasharray="3.2 2.3"/>
<path d="M349.80 385.00L354.40 389.60L349.80 394.20L345.20 389.60Z" fill="#000"/>
<text x="387.30" y="339.90" font-family='"Liberation Serif", serif' font-size="11" font-weight="normal" text-anchor="start" >WT</text>
<text x="387.30" y="367.10" font-family='"Liberation Serif", serif' font-size="11" font-weight="normal" text-anchor="start" >HET</text>
<text x="387.30" y="394.00" font-family='"Liberation Serif", serif' font-size="11" font-weight="normal" text-anchor="start" >HZ</text>
</svg>
</body></html>
